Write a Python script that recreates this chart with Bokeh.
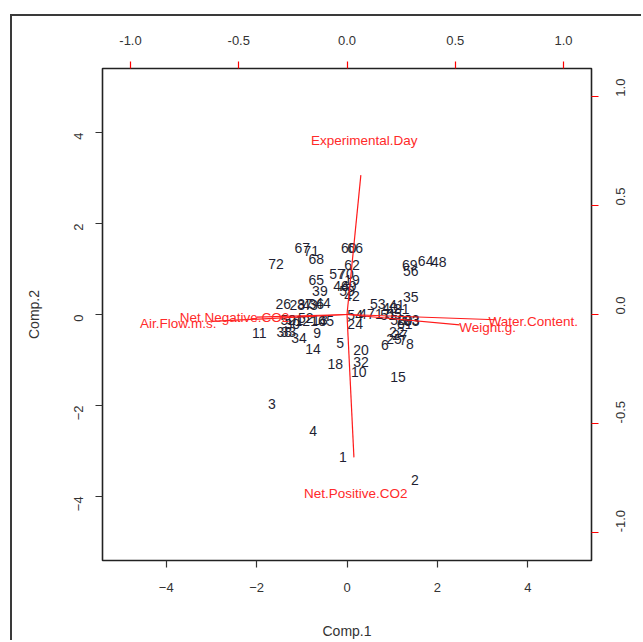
import math
from bokeh.plotting import figure
from bokeh.models import Range1d, LinearAxis, FixedTicker, ColumnDataSource, PrintfTickFormatter
from bokeh.core.properties import value
from bokeh.embed import file_html
from bokeh.resources import INLINE

# Scores (Comp.1, Comp.2) for observations 1..72
obs_labels = [str(i) for i in range(1, 73)]
comp1 = [-0.09, 1.50, -1.66, -0.75, -0.15, 0.84, 1.24, 1.39, -0.66, 0.26,
         -1.94, -0.99, -0.60, -0.75, 1.13, -0.64, 0.79, -0.26, 0.11, 0.31,
         -1.13, 1.10, 1.43, 0.18, 1.04, -1.41, 1.17, -1.10, 1.28, -1.21,
         1.21, 0.31, -1.30, -1.06, 1.41, -0.68, -0.93, -1.39, -0.60, 0.95,
         1.10, 0.11, -0.82, -0.53, -0.46, -0.13, 0.44, 2.03, 0.04, -1.30,
         0.91, -0.91, 0.68, 0.18, 1.04, 1.41, -0.22, 1.13, 0.00, 0.04,
         1.28, 0.11, 1.43, 1.74, -0.68, 0.18, -0.99, -0.68, 1.39, -0.02,
         -0.79, -1.57]
comp2 = [-3.13, -3.64, -1.96, -2.56, -0.62, -0.66, -0.55, -0.64, -0.40, -1.26,
         -0.40, -0.15, -0.13, -0.75, -1.37, -0.15, 0.02, -1.08, 0.75, -0.77,
         -0.11, -0.38, -0.11, -0.20, -0.53, 0.24, -0.44, 0.20, -0.11, -0.20,
         0.11, -1.04, -0.38, -0.51, 0.38, 0.22, 0.24, -0.38, 0.51, 0.15,
         0.20, 0.40, 0.20, 0.26, -0.15, 0.62, 0.02, 1.15, 0.62, -0.11,
         0.00, -0.07, 0.24, 0.00, 0.02, 0.95, 0.88, -0.11, 0.51, 1.46,
         -0.20, 1.08, -0.15, 1.17, 0.75, 1.46, 1.46, 1.21, 1.08, 0.88,
         1.39, 1.10]

# Loadings (variable vectors)
var_names = ["Experimental.Day", "Net.Positive.CO2", "Water.Content.",
             "Weight.g.", "Air.Flow.m.s.", "Net.Negative.CO2"]
load1 = [0.08, 0.04, 0.86, 0.65, -0.78, -0.52]
load2 = [0.80, -0.82, -0.03, -0.06, -0.04, -0.015]

x_ticks = [-4, -2, 0, 2, 4]
y_ticks = [-4, -2, 0, 2, 4]
load_ticks = [-1.0, -0.5, 0.0, 0.5, 1.0]

score_lim = 5.41
ratio = 4.79
arrow_frac = 0.8

# the page has an outer frame starting at (10, 14); the figure sits inside it
off_x, off_y, bw = 10, 14, 2
p = figure(width=643 - off_x - bw, height=642 - off_y - bw, output_backend="svg",
           toolbar_location=None,
           x_range=Range1d(-score_lim, score_lim), y_range=Range1d(-score_lim, score_lim),
           min_border_left=102 - off_x - bw, min_border_right=52,
           min_border_top=68 - off_y - bw, min_border_bottom=84 - bw,
           x_axis_location=None, y_axis_location=None)
p.styles = {"margin-left": f"{off_x}px", "margin-top": f"{off_y}px",
            "border-left": f"{bw}px solid #3a3a3a", "border-top": f"{bw}px solid #3a3a3a"}
p.background_fill_color = "white"
p.border_fill_color = "white"
p.outline_line_color = "#222222"
p.outline_line_width = 1.6
p.grid.visible = False

p.extra_x_ranges = {"load": Range1d(-score_lim / ratio, score_lim / ratio)}
p.extra_y_ranges = {"load": Range1d(-score_lim / ratio, score_lim / ratio)}

font = "Liberation Sans"

def style_axis(ax, tick_color, vertical=False):
    ax.axis_line_color = None
    ax.major_tick_line_color = tick_color
    ax.major_tick_line_width = 1.2
    ax.major_tick_out = 7
    ax.major_tick_in = 0
    ax.minor_tick_line_color = None
    ax.major_label_text_font = font
    ax.major_label_text_font_size = "13px"
    ax.major_label_text_color = "#333333"
    ax.axis_label_text_font = font
    ax.axis_label_text_font_size = "14px"
    ax.axis_label_text_font_style = "normal"
    ax.axis_label_text_color = "#333333"
    if vertical:
        ax.major_label_orientation = math.pi / 2

bx = LinearAxis(ticker=FixedTicker(ticks=x_ticks), axis_label="Comp.1")
style_axis(bx, "#333333")
bx.major_label_standoff = 15
bx.axis_label_standoff = 28
p.add_layout(bx, "below")

ly = LinearAxis(ticker=FixedTicker(ticks=y_ticks), axis_label="Comp.2")
style_axis(ly, "#333333", vertical=True)
ly.major_label_standoff = 17
ly.axis_label_standoff = 25
p.add_layout(ly, "left")

tx = LinearAxis(x_range_name="load", ticker=FixedTicker(ticks=load_ticks),
                formatter=PrintfTickFormatter(format="%.1f"))
style_axis(tx, "red")
tx.major_label_standoff = 17
p.add_layout(tx, "above")

ry = LinearAxis(y_range_name="load", ticker=FixedTicker(ticks=load_ticks),
                formatter=PrintfTickFormatter(format="%.1f"))
style_axis(ry, "red", vertical=True)
ry.major_label_standoff = 22
p.add_layout(ry, "right")

# observation labels
src = ColumnDataSource(dict(x=comp1, y=comp2, t=obs_labels))
p.text(x="x", y="y", text="t", source=src, text_align="center", text_baseline="middle",
       text_font=value(font), text_font_size="14px", text_color="#1f1f33")

# loading arrows
tip1 = [v * arrow_frac for v in load1]
tip2 = [v * arrow_frac for v in load2]
lsrc = ColumnDataSource(dict(x0=[0.0] * len(load1), y0=[0.0] * len(load1),
                             x1=tip1, y1=tip2, lx=load1, ly=load2, name=var_names))
p.segment(x0="x0", y0="y0", x1="x1", y1="y1", source=lsrc, line_color="#ff1a1a",
          line_width=1.2, x_range_name="load", y_range_name="load")
p.text(x="lx", y="ly", text="name", source=lsrc, x_range_name="load", y_range_name="load",
       text_align="center", text_baseline="middle", text_font=value(font),
       text_font_size="13.5px", text_color="#ff2a2a")

open("out.html", "w").write(file_html(p, INLINE))
